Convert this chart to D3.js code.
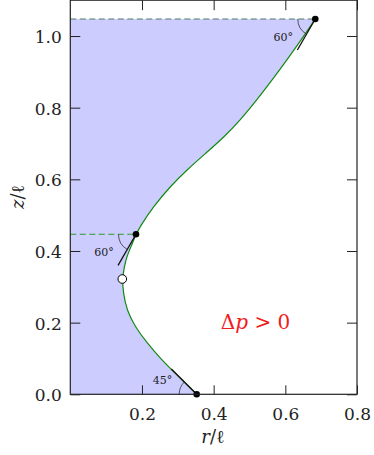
<!DOCTYPE html>
<html>
<head>
<meta charset="utf-8">
<script src="https://cdn.jsdelivr.net/npm/d3@7"></script>
<style>
  body { margin: 0; background: #fff; }
</style>
</head>
<body>
<div id="chart"></div>
<script>
// Meridian profile of the bridge (r/l, z/l)
const rVals = [0.3527, 0.3178, 0.2829, 0.2503, 0.2132, 0.1805, 0.1574, 0.1479, 0.1451, 0.1507, 0.1574, 0.1713, 0.1833,
               0.1945, 0.2316, 0.2782, 0.3248, 0.3828, 0.4289, 0.4735, 0.5238, 0.5684, 0.6061, 0.6449, 0.6836];
const zVals = [0.0000, 0.0338, 0.0684, 0.1013, 0.1446, 0.1887, 0.2353, 0.2819, 0.3218, 0.3562, 0.3841, 0.4167, 0.4466,
               0.4678, 0.5236, 0.5794, 0.6261, 0.6771, 0.7182, 0.7642, 0.8256, 0.8842, 0.9359, 0.9903, 1.0475];

// contact points with their contact angles
const contactR = [0.3527, 0.1833, 0.6836];
const contactZ = [0.0000, 0.4466, 1.0475];
const contactAngle = [45, 60, 60];
const contactSide = [1, -1, -1]; // tangent goes up (+1) or down (-1)

// neck (open circle)
const neckR = [0.1451];
const neckZ = [0.3218];

const xTicks = [0.2, 0.4, 0.6, 0.8];
const yTicks = [0.0, 0.2, 0.4, 0.6, 0.8, 1.0];

// Dimensions
const width = 374;
const height = 455;
const serif = "DejaVu Serif";

const x = d3.scaleLinear().domain([0, 0.8]).range([70.3, 357]);
const y = d3.scaleLinear().domain([0, 1.1]).range([394.3, 0.2]);

const svg = d3.select("#chart")
    .append("svg")
    .attr("width", width)
    .attr("height", height);

const pts = rVals.map((r, i) => [r, zVals[i]]);
const profile = d3.line().x(d => x(d[0])).y(d => y(d[1])).curve(d3.curveBasis);

// Fill between the axis and the profile
svg.append("path")
    .attr("d", profile(pts) + "L" + x(0) + "," + y(zVals[zVals.length - 1]) + "L" + x(0) + "," + y(0) + "Z")
    .attr("fill", "#ccccff")
    .attr("stroke", "none");

// Dashed levels of the two upper contact lines
svg.selectAll(".level")
    .data([1, 2])
    .enter()
    .append("line")
    .attr("x1", x(0))
    .attr("x2", i => x(contactR[i]))
    .attr("y1", i => y(contactZ[i]))
    .attr("y2", i => y(contactZ[i]))
    .attr("stroke", i => i === 2 ? "#4f7a62" : "#2a9a2a")
    .attr("stroke-width", 1.1)
    .attr("stroke-dasharray", "6,3.5");

// Profile curve
svg.append("path")
    .attr("d", profile(pts))
    .attr("fill", "none")
    .attr("stroke", "#118a11")
    .attr("stroke-width", 1.2);

// Tangent segments at contact points
const L = 0.1;
svg.selectAll(".tangent")
    .data(contactR)
    .enter()
    .append("line")
    .attr("x1", (d, i) => x(d))
    .attr("y1", (d, i) => y(contactZ[i]))
    .attr("x2", (d, i) => x(d - L * Math.cos(contactAngle[i] * Math.PI / 180)))
    .attr("y2", (d, i) => y(contactZ[i] + contactSide[i] * L * Math.sin(contactAngle[i] * Math.PI / 180)))
    .attr("stroke", "#111")
    .attr("stroke-width", 1.3);

// Angle arcs and labels
const R = 17.5;
contactR.forEach((r, i) => {
  const cx = x(r), cy = y(contactZ[i]);
  const a = contactAngle[i] * Math.PI / 180;
  const s = contactSide[i];
  const ex = cx - R * Math.cos(a), ey = cy - s * R * Math.sin(a);
  svg.append("path")
      .attr("d", `M${cx - R},${cy} A${R},${R} 0 0 ${s > 0 ? 1 : 0} ${ex},${ey}`)
      .attr("fill", "none")
      .attr("stroke", "#333")
      .attr("stroke-width", 0.8);
  svg.append("text")
      .attr("x", cx - 37 * Math.cos(a / 2))
      .attr("y", cy - s * 37 * Math.sin(a / 2))
      .attr("text-anchor", "middle")
      .attr("dominant-baseline", "central")
      .attr("font-family", serif)
      .attr("font-size", 11)
      .attr("fill", "#222")
      .text(contactAngle[i] + "°");
});

// Contact dots
svg.selectAll(".dot")
    .data(contactR)
    .enter()
    .append("circle")
    .attr("cx", d => x(d))
    .attr("cy", (d, i) => y(contactZ[i]))
    .attr("r", 3.3)
    .attr("fill", "#000");

// Neck
svg.selectAll(".neck")
    .data(neckR)
    .enter()
    .append("circle")
    .attr("cx", d => x(d))
    .attr("cy", (d, i) => y(neckZ[i]))
    .attr("r", 4.3)
    .attr("fill", "#fff")
    .attr("stroke", "#000")
    .attr("stroke-width", 1);

// Axes, ticks pointing inward
const fmt = d3.format(".1f");
const gB = svg.append("g").attr("transform", `translate(0,${y(0)})`)
    .call(d3.axisBottom(x).tickValues(xTicks).tickFormat(fmt).tickSizeInner(-9).tickSizeOuter(0).tickPadding(14));
const gL = svg.append("g").attr("transform", `translate(${x(0)},0)`)
    .call(d3.axisLeft(y).tickValues(yTicks).tickFormat(fmt).tickSizeInner(-10).tickSizeOuter(0).tickPadding(8.5));
const gT = svg.append("g").attr("transform", `translate(0,${y(1.1)})`)
    .call(d3.axisTop(x).tickValues(xTicks).tickFormat("").tickSizeInner(-10).tickSizeOuter(0));
const gR = svg.append("g").attr("transform", `translate(${x(0.8)},0)`)
    .call(d3.axisRight(y).tickValues(yTicks).tickFormat("").tickSizeInner(-10).tickSizeOuter(0));

[gB, gL, gT, gR].forEach(g => {
  g.attr("font-family", serif).attr("font-size", 17);
  g.select(".domain").remove();
  g.selectAll("line").attr("stroke", "#222").attr("stroke-width", 1);
  g.selectAll("text").attr("fill", "#222");
});
gL.selectAll("text").attr("dy", "0.38em");

// Frame
svg.append("rect")
    .attr("x", x(0))
    .attr("y", y(1.1))
    .attr("width", x(0.8) - x(0))
    .attr("height", y(0) - y(1.1))
    .attr("fill", "none")
    .attr("stroke", "#222")
    .attr("stroke-width", 1.2);

// Axis labels
const xl = svg.append("text")
    .attr("x", 213)
    .attr("y", 443)
    .attr("text-anchor", "middle")
    .attr("font-family", serif)
    .attr("font-size", 18)
    .attr("fill", "#222");
xl.append("tspan").attr("font-style", "italic").text("r");
xl.append("tspan").text("/ℓ");

const yl = svg.append("text")
    .attr("transform", "translate(24,197) rotate(-90)")
    .attr("text-anchor", "middle")
    .attr("font-family", serif)
    .attr("font-size", 18)
    .attr("fill", "#222");
yl.append("tspan").attr("font-style", "italic").text("z");
yl.append("tspan").text("/ℓ");

// Pressure annotation
const ann = svg.append("text")
    .attr("x", 255.5)
    .attr("y", 329)
    .attr("text-anchor", "middle")
    .attr("font-family", serif)
    .attr("font-size", 20)
    .attr("fill", "#f01c1c");
ann.append("tspan").text("Δ");
ann.append("tspan").attr("font-style", "italic").text("p");
ann.append("tspan").text(" > 0");
</script>
</body>
</html>
